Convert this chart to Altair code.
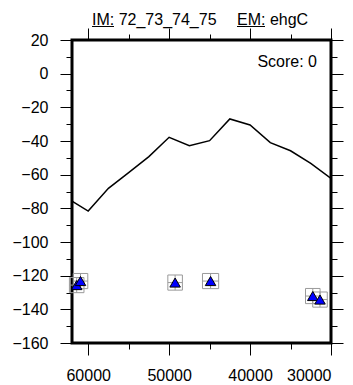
import altair as alt
import pandas as pd

# Line series
line_x = [62000, 60000, 57500, 55000, 52500, 50000, 47500, 45000, 42500, 40000, 37500, 35000, 32500, 30000]
line_y = [-75.7, -81.6, -68.1, -58.8, -49.3, -37.8, -42.8, -39.8, -26.9, -30.5, -41.0, -45.8, -53.3, -62.2]

# Points with error bars
pt_x = [61420, 60950, 49260, 44880, 32250, 31360]
pt_y = [-125.6, -123.2, -124.1, -123.2, -132.1, -134.2]
x_err = [900, 900, 900, 1000, 900, 900]
y_err = [4.5, 4.5, 4.5, 4.5, 4.5, 4.5]

x_ticks = [60000, 55000, 50000, 45000, 40000, 35000, 30000]
y_ticks = list(range(-160, 21, 10))

line_df = pd.DataFrame({"x": line_x, "y": line_y})
pt_df = pd.DataFrame({"x": pt_x, "y": pt_y, "xe": x_err, "ye": y_err})
pt_df["x0"] = pt_df["x"] - pt_df["xe"]
pt_df["x1"] = pt_df["x"] + pt_df["xe"]
pt_df["y0"] = pt_df["y"] - pt_df["ye"]
pt_df["y1"] = pt_df["y"] + pt_df["ye"]

W, H = 259, 303
xscale = alt.Scale(domain=[30000, 62000], reverse=True, nice=False, zero=False)
yscale = alt.Scale(domain=[-160, 20], nice=False, zero=False)

xtick_size = {"condition": {"test": "datum.value % 10000 === 0", "value": 12}, "value": 6}
ytick_size = {"condition": {"test": "datum.value % 20 === 0", "value": 12}, "value": 6}

x_bottom = alt.Axis(orient="bottom", values=x_ticks, format="d", tickSize=xtick_size,
                    labelExpr="datum.value % 10000 === 0 ? datum.label : ''",
                    labelPadding=12, title=None, grid=False, domain=False)
y_left = alt.Axis(orient="left", values=y_ticks, tickSize=ytick_size,
                  labelExpr="datum.value % 20 === 0 ? datum.label : ''",
                  labelPadding=12, title=None, grid=False, domain=False)
x_top = alt.Axis(orient="top", values=x_ticks, tickSize=xtick_size, labels=False,
                 title=None, grid=False, domain=False)
y_right = alt.Axis(orient="right", values=y_ticks, tickSize=ytick_size, labels=False,
                   title=None, grid=False, domain=False)


def X(f, axis=None):
    return alt.X(f, scale=xscale, axis=axis, title=None)


def Y(f, axis=None):
    return alt.Y(f, scale=yscale, axis=axis, title=None)


line = alt.Chart(line_df).mark_line(color="black", strokeWidth=1.5, clip=True).encode(
    x=X("x:Q", x_bottom), y=Y("y:Q", y_left),
)

ecol = "#9a9a9a"
axes2 = alt.Chart(line_df).mark_line(opacity=0).encode(
    x=X("x:Q", x_top), y=Y("y:Q", y_right),
)
hbar = alt.Chart(pt_df).mark_rule(color=ecol, strokeWidth=1).encode(
    x=X("x0:Q"), x2="x1:Q", y=Y("y:Q"),
)
vbar = alt.Chart(pt_df).mark_rule(color=ecol, strokeWidth=1).encode(
    x=X("x:Q"), y=Y("y0:Q"), y2="y1:Q",
)
capx0 = alt.Chart(pt_df).mark_rule(color=ecol, strokeWidth=1).encode(
    x=X("x0:Q"), y=Y("y0:Q"), y2="y1:Q",
)
capx1 = alt.Chart(pt_df).mark_rule(color=ecol, strokeWidth=1).encode(
    x=X("x1:Q"), y=Y("y0:Q"), y2="y1:Q",
)
capy0 = alt.Chart(pt_df).mark_rule(color=ecol, strokeWidth=1).encode(
    x=X("x0:Q"), x2="x1:Q", y=Y("y0:Q"),
)
capy1 = alt.Chart(pt_df).mark_rule(color=ecol, strokeWidth=1).encode(
    x=X("x0:Q"), x2="x1:Q", y=Y("y1:Q"),
)
pts = alt.Chart(pt_df).mark_point(shape="triangle-up", filled=True, fill="#0000ff",
                                  stroke="black", strokeWidth=1, size=110, opacity=1).encode(
    x=X("x:Q"), y=Y("y:Q"),
)

font = "Liberation Sans"
score = alt.Chart(pd.DataFrame({"t": ["Score: 0"]})).mark_text(
    align="right", baseline="alphabetic", font=font, fontSize=16, color="black"
).encode(x=alt.value(245), y=alt.value(26.5), text="t:N")

title_a = alt.Chart(pd.DataFrame({"t": ["IM: 72_73_74_75"]})).mark_text(
    align="left", baseline="alphabetic", font=font, fontSize=16, color="black"
).encode(x=alt.value(20), y=alt.value(-15.5), text="t:N")
title_b = alt.Chart(pd.DataFrame({"t": ["EM: ehgC"]})).mark_text(
    align="left", baseline="alphabetic", font=font, fontSize=16, color="black"
).encode(x=alt.value(165), y=alt.value(-15.5), text="t:N")
ul_a = alt.Chart(pd.DataFrame({"t": [0]})).mark_rule(color="black", strokeWidth=1).encode(
    x=alt.value(20), x2=alt.value(42), y=alt.value(-13.5))
ul_b = alt.Chart(pd.DataFrame({"t": [0]})).mark_rule(color="black", strokeWidth=1).encode(
    x=alt.value(165), x2=alt.value(193), y=alt.value(-13.5))

chart = alt.layer(
    line, axes2, hbar, vbar, capx0, capx1, capy0, capy1, pts, score, title_a, title_b, ul_a, ul_b
).resolve_axis(x="independent", y="independent").properties(
    width=W, height=H,
    background="white",
    autosize=alt.AutoSizeParams(type="none"),
    padding={"left": 64, "top": 32, "right": 14, "bottom": 40},
).configure_view(
    stroke="black", strokeWidth=3
).configure_axis(
    domain=False, grid=False, tickColor="black", tickWidth=1,
    labelColor="black", labelFont=font, labelFontSize=16,
)

chart.save("out.html", embed_options={"renderer": "svg", "actions": False})
